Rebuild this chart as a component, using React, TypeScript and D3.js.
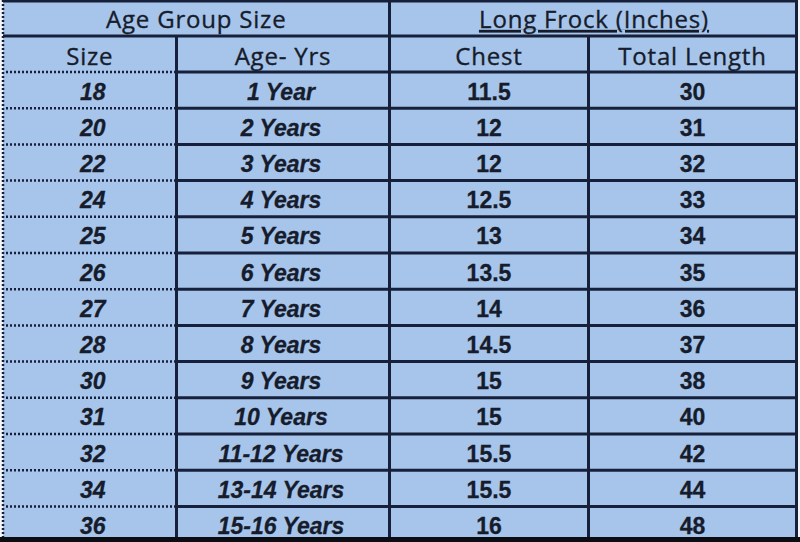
import React from "react";
import * as d3 from "d3";

const sizes = ["18", "20", "22", "24", "25", "26", "27", "28", "30", "31", "32", "34", "36"];
const ages = ["1 Year", "2 Years", "3 Years", "4 Years", "5 Years", "6 Years", "7 Years", "8 Years", "9 Years", "10 Years", "11-12 Years", "13-14 Years", "15-16 Years"];
const chest = ["11.5", "12", "12", "12.5", "13", "13.5", "14", "14.5", "15", "15", "15.5", "15.5", "16"];
const totalLength = ["30", "31", "32", "33", "34", "35", "36", "37", "38", "40", "42", "44", "48"];
const groupHeaders = ["Age Group Size", "Long Frock (Inches)"];
const columnHeaders = ["Size", "Age- Yrs", "Chest", "Total Length"];

const W = 800;
const H = 542;
const BG = "#a7c5ea";
const INK = "#161c2c";
const LINE = "#17203a";
const HEAD_FONT = "'Open Sans', Lato, sans-serif";
const DATA_FONT = "'Liberation Sans', Arial, sans-serif";

export default function App() {
  const colEdges = [3, 176.5, 389.5, 588.5, 796.5];
  const head1 = 36;
  const head2 = 72;
  const y = d3.scaleBand<string>().domain(sizes).range([head2, 542.6]).padding(0);
  const colCenter = (i: number) => (colEdges[i] + colEdges[i + 1]) / 2;
  const columns = [sizes, ages, chest, totalLength];
  const headProps = {
    textAnchor: "middle" as const,
    fontFamily: HEAD_FONT,
    fontSize: 24,
    letterSpacing: 0.8,
    fill: INK,
    stroke: INK,
    strokeWidth: 0.35,
  };

  return (
    <svg width={W} height={H} style={{ position: "fixed", left: 0, top: 0, background: "#f4f6f8" }}>
      <rect x={colEdges[0]} y={0} width={colEdges[4] - colEdges[0]} height={H} fill={BG} />
      {/* group headers */}
      <text x={(colEdges[0] + colEdges[2]) / 2} y={28} {...headProps}>
        {groupHeaders[0]}
      </text>
      <text x={(colEdges[2] + colEdges[4]) / 2 + 1} y={28} {...headProps} textDecoration="underline">
        {groupHeaders[1]}
      </text>
      {columnHeaders.map((h, i) => (
        <text key={h} x={colCenter(i)} y={65} {...headProps}>
          {h}
        </text>
      ))}
      {/* data */}
      {columns.map((col, ci) =>
        col.map((v, ri) => (
          <text
            key={ci + "-" + ri}
            x={colCenter(ci) + (ci === 0 ? 3 : ci === 1 ? -2 : 0)}
            y={(y(sizes[ri]) as number) + y.bandwidth() / 2 + 9.5}
            textAnchor="middle"
            fontFamily={DATA_FONT}
            fontWeight="bold"
            fontStyle={ci < 2 ? "italic" : "normal"}
            fontSize={23}
            fill={INK}
            stroke={INK}
            strokeWidth={0.3}
          >
            {v}
          </text>
        ))
      )}
      {/* horizontal lines */}
      <line x1={colEdges[0]} x2={colEdges[4]} y1={1} y2={1} stroke={LINE} strokeWidth={3} />
      <line x1={colEdges[0]} x2={colEdges[4]} y1={head1} y2={head1} stroke={LINE} strokeWidth={3} />
      {sizes.map((s) => {
        const yy = y(s) as number;
        return (
          <g key={"h" + s}>
            <line x1={colEdges[0] + 3} x2={colEdges[1]} y1={yy} y2={yy} stroke={LINE} strokeWidth={2.5} strokeDasharray="2 2" />
            <line x1={colEdges[1]} x2={colEdges[4]} y1={yy} y2={yy} stroke={LINE} strokeWidth={3} />
          </g>
        );
      })}
      {/* vertical lines */}
      <line x1={colEdges[0]} x2={colEdges[0]} y1={0} y2={H} stroke={LINE} strokeWidth={2.5} strokeDasharray="2 2" />
      <line x1={colEdges[1]} x2={colEdges[1]} y1={head1} y2={H} stroke={LINE} strokeWidth={3} />
      <line x1={colEdges[2]} x2={colEdges[2]} y1={0} y2={H} stroke={LINE} strokeWidth={3} />
      <line x1={colEdges[3]} x2={colEdges[3]} y1={head1} y2={H} stroke={LINE} strokeWidth={3} />
      <line x1={colEdges[4]} x2={colEdges[4]} y1={0} y2={H} stroke={LINE} strokeWidth={3} />
      <rect x={0} y={537} width={W} height={5} fill="#0b0d12" />
    </svg>
  );
}
